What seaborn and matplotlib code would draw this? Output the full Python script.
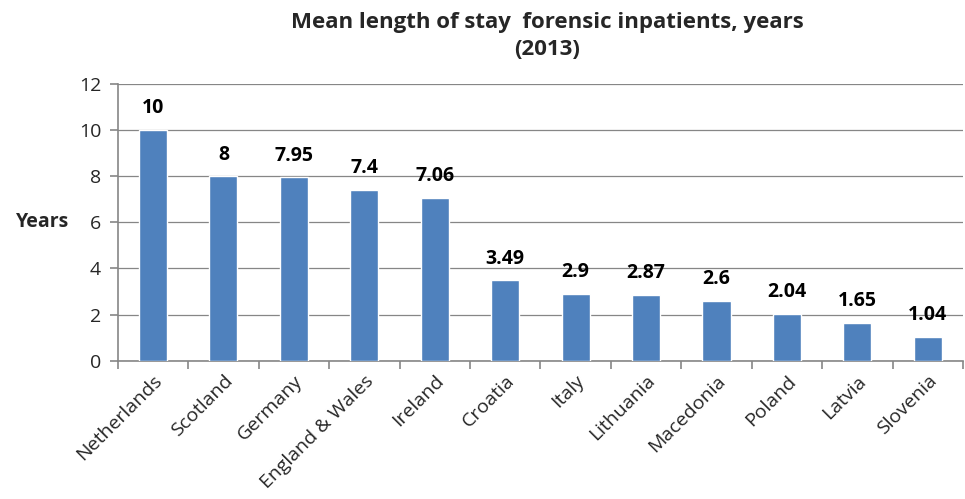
import numpy as np
import pandas as pd
import matplotlib
matplotlib.use('Agg')
import matplotlib.pyplot as plt
import seaborn as sns

# Данные
countries = ['Netherlands', 'Scotland', 'Germany', 'England & Wales', 'Ireland', 'Croatia',
             'Italy', 'Lithuania', 'Macedonia', 'Poland', 'Latvia', 'Slovenia']
years = [10, 8, 7.95, 7.4, 7.06, 3.49, 2.9, 2.87, 2.6, 2.04, 1.65, 1.04]
value_labels = ['10', '8', '7.95', '7.4', '7.06', '3.49', '2.9', '2.87', '2.6', '2.04', '1.65', '1.04']

df = pd.DataFrame({'country': countries, 'years': years})

sns.set_theme(style='white')
plt.rcParams['font.family'] = ['Open Sans', 'DejaVu Sans']

AXIS_GREY = '#868686'
BAR_BLUE = '#4F81BD'

fig = plt.figure(figsize=(9.65, 4.99), dpi=100)
ax = fig.add_axes([0.122, 0.277, 0.876, 0.555])

sns.barplot(data=df, x='country', y='years', color=BAR_BLUE, width=0.4,
            saturation=1, ax=ax, zorder=3)

ax.set_ylim(0, 12)
ax.set_xlim(-0.5, len(countries) - 0.5)
ax.set_yticks(np.arange(0, 13, 2))
ax.yaxis.grid(True, color=AXIS_GREY, linewidth=0.9, zorder=0)
ax.set_axisbelow(True)

for s in ['top', 'right']:
    ax.spines[s].set_visible(False)
for s in ['left', 'bottom']:
    ax.spines[s].set_color(AXIS_GREY)
    ax.spines[s].set_linewidth(1.2)

# Метки значений
for i, (v, lab) in enumerate(zip(years, value_labels)):
    ax.text(i, v + 0.5, lab, ha='center', va='bottom', fontsize=14,
            fontweight='bold', color='black')

# Засечки между категориями
ax.set_xticks(np.arange(len(countries)))
ax.set_xticklabels(countries, rotation=45, ha='right', rotation_mode='anchor', fontsize=14)
ax.set_xticks(np.arange(-0.5, len(countries)), minor=True)
ax.tick_params(axis='x', which='major', length=0, pad=8)
ax.tick_params(axis='x', which='minor', length=6, width=1.2, color=AXIS_GREY, direction='out', bottom=True)
ax.tick_params(axis='y', length=6, width=1.2, color=AXIS_GREY, direction='out', left=True, labelsize=14, pad=6)

ax.set_xlabel('')
ax.set_ylabel('Years', rotation=0, fontsize=14, fontweight='bold', labelpad=26, va='center')

fig.text(0.567, 0.975, 'Mean length of stay  forensic inpatients, years\n(2013)', ha='center', va='top',
         fontsize=16, fontweight='bold', linespacing=1.35)

plt.savefig('out.png', dpi=100)
plt.close()
